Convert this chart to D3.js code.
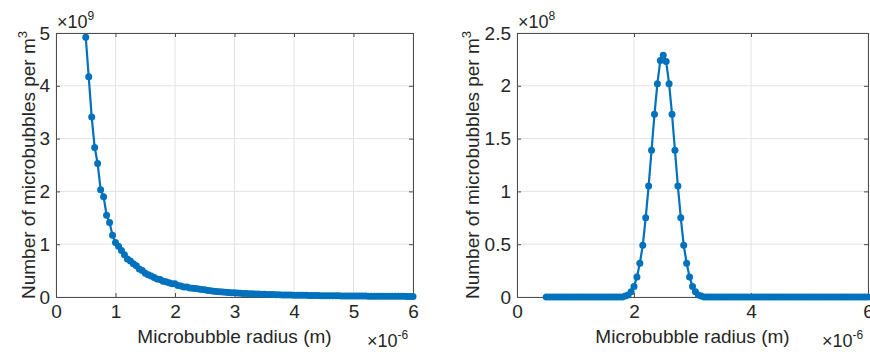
<!DOCTYPE html>
<html>
<head>
<meta charset="utf-8">
<script src="https://cdn.jsdelivr.net/npm/d3@7"></script>
<style>
  body { margin: 0; background: #fff; }
  svg text { font-family: "Liberation Sans", Arial, sans-serif; fill: #262626; }
</style>
</head>
<body>
<div id="chart"></div>
<script>
// radius grid (x 1e-6 m), shared by both panels
var radius = [0.50,0.55,0.60,0.65,0.70,0.75,0.80,0.85,0.90,0.95,
  1.00,1.05,1.10,1.15,1.20,1.25,1.30,1.35,1.40,1.45,
  1.50,1.55,1.60,1.65,1.70,1.75,1.80,1.85,1.90,1.95,
  2.00,2.05,2.10,2.15,2.20,2.25,2.30,2.35,2.40,2.45,
  2.50,2.55,2.60,2.65,2.70,2.75,2.80,2.85,2.90,2.95,
  3.00,3.05,3.10,3.15,3.20,3.25,3.30,3.35,3.40,3.45,
  3.50,3.55,3.60,3.65,3.70,3.75,3.80,3.85,3.90,3.95,
  4.00,4.05,4.10,4.15,4.20,4.25,4.30,4.35,4.40,4.45,
  4.50,4.55,4.60,4.65,4.70,4.75,4.80,4.85,4.90,4.95,
  5.00,5.05,5.10,5.15,5.20,5.25,5.30,5.35,5.40,5.45,
  5.50,5.55,5.60,5.65,5.70,5.75,5.80,5.85,5.90,5.95,6.00];

// left panel, number per m^3 (x 1e9)
var leftCounts = [4.92,4.17,3.41,2.83,2.53,2.03,1.90,1.55,1.41,1.17,
  1.03,0.96,0.88,0.80,0.72,0.68,0.63,0.59,0.53,0.50,
  0.45,0.42,0.40,0.37,0.34,0.33,0.30,0.29,0.27,0.25,
  0.25,0.22,0.21,0.19,0.19,0.17,0.165,0.16,0.15,0.14,
  0.135,0.125,0.12,0.11,0.105,0.10,0.095,0.09,0.087,0.082,
  0.080,0.074,0.071,0.068,0.065,0.062,0.060,0.057,0.055,0.053,
  0.050,0.048,0.047,0.045,0.043,0.042,0.040,0.039,0.037,0.036,
  0.035,0.034,0.033,0.032,0.031,0.030,0.029,0.028,0.027,0.026,
  0.025,0.025,0.024,0.023,0.022,0.022,0.021,0.020,0.020,0.019,
  0.019,0.018,0.018,0.017,0.017,0.016,0.016,0.015,0.015,0.015,
  0.014,0.014,0.013,0.013,0.013,0.012,0.012,0.012,0.011,0.011,0.011];

// right panel, number per m^3 (x 1e8)
var rightCounts = [0,0,0,0,0,0,0,0,0,0,
  0,0,0,0,0,0,0,0,0,0,
  0,0,0,0,0,0,0,0.01,0.02,0.05,
  0.10,0.19,0.32,0.49,0.75,1.05,1.39,1.73,2.02,2.24,
  2.29,2.23,2.02,1.73,1.39,1.05,0.75,0.49,0.32,0.19,
  0.10,0.05,0.02,0.01,0,0,0,0,0,0,
  0,0,0,0,0,0,0,0,0,0,
  0,0,0,0,0,0,0,0,0,0,
  0,0,0,0,0,0,0,0,0,0,
  0,0,0,0,0,0,0,0,0,0,
  0,0,0,0,0,0,0,0,0,0,0];

var leftXTicks = [0,1,2,3,4,5,6];
var leftYTicks = [0,1,2,3,4,5];
var rightXTicks = [0,2,4,6];
var rightYTicks = [0,0.5,1,1.5,2,2.5];
var xLabel = "Microbubble radius (m)";
var yLabel = "Number of microbubbles per m";

var width = 870, height = 354;
var blue = "#0072BD";
var fs = "19px";

var svg = d3.select("#chart").append("svg")
  .attr("width", width)
  .attr("height", height);

function drawPanel(p) {
  var x = d3.scaleLinear().domain([0, 6]).range([p.left, p.right]);
  var y = d3.scaleLinear().domain([0, p.ymax]).range([p.bottom, p.top]);
  var g = svg.append("g");

  // grid
  g.selectAll(".gx").data(p.xticks).enter().append("line")
    .attr("x1", function(d) { return x(d); }).attr("x2", function(d) { return x(d); })
    .attr("y1", p.top).attr("y2", p.bottom)
    .style("stroke", "#e3e3e3").style("stroke-width", 1);
  g.selectAll(".gy").data(p.yticks).enter().append("line")
    .attr("y1", function(d) { return y(d); }).attr("y2", function(d) { return y(d); })
    .attr("x1", p.left).attr("x2", p.right)
    .style("stroke", "#e3e3e3").style("stroke-width", 1);

  // axes, ticks inward
  var fmt = function(d) { return String(d); };
  g.append("g").attr("transform", "translate(0," + p.bottom + ")")
    .call(d3.axisBottom(x).tickValues(p.xticks).tickSizeInner(-4).tickSizeOuter(0).tickPadding(8).tickFormat(fmt));
  g.append("g").attr("transform", "translate(0," + p.top + ")")
    .call(d3.axisTop(x).tickValues(p.xticks).tickSizeInner(-4).tickSizeOuter(0).tickFormat(""));
  g.append("g").attr("transform", "translate(" + p.left + ",0)")
    .call(d3.axisLeft(y).tickValues(p.yticks).tickSizeInner(-4).tickSizeOuter(0).tickPadding(6).tickFormat(fmt));
  g.append("g").attr("transform", "translate(" + p.right + ",0)")
    .call(d3.axisRight(y).tickValues(p.yticks).tickSizeInner(-4).tickSizeOuter(0).tickFormat(""));
  g.selectAll(".domain").style("stroke", "#4d4d4d");
  g.selectAll(".tick line").style("stroke", "#4d4d4d");
  g.selectAll(".tick text").style("font-size", fs).style("fill", "#262626")
    .style("font-family", "'Liberation Sans', Arial, sans-serif");

  // series
  var line = d3.line()
    .x(function(d, i) { return x(radius[i]); })
    .y(function(d) { return y(d); });
  g.append("path").datum(p.values)
    .attr("d", line)
    .style("fill", "none").style("stroke", blue).style("stroke-width", 2.2);
  g.selectAll("circle").data(p.values).enter().append("circle")
    .attr("cx", function(d, i) { return x(radius[i]); })
    .attr("cy", function(d) { return y(d); })
    .attr("r", 3.5)
    .style("fill", blue);

  // labels
  g.append("text")
    .attr("x", (p.left + p.right) / 2).attr("y", 343)
    .attr("text-anchor", "middle").style("font-size", fs)
    .text(xLabel);
  var yl = g.append("text")
    .attr("transform", "translate(" + p.ylabelX + "," + (p.top + p.bottom) / 2 + ") rotate(-90)")
    .attr("text-anchor", "middle").style("font-size", fs);
  yl.append("tspan").text(yLabel);
  yl.append("tspan").attr("dy", -8).style("font-size", "13px").text("3");

  var ex = g.append("text").attr("x", p.right - 46).attr("y", 347).style("font-size", "18px");
  ex.append("tspan").text("\u00d710");
  ex.append("tspan").attr("dy", -8).style("font-size", "12px").text("-6");

  var ey = g.append("text").attr("x", p.left + 1).attr("y", 28).style("font-size", "18px");
  ey.append("tspan").text("\u00d710");
  ey.append("tspan").attr("dy", -8).style("font-size", "12px").text(p.exp);
}

drawPanel({ left: 56, right: 413, top: 33, bottom: 297, ymax: 5,
  xticks: leftXTicks, yticks: leftYTicks, values: leftCounts, exp: "9", ylabelX: 35 });
drawPanel({ left: 517, right: 868, top: 33, bottom: 297, ymax: 2.5,
  xticks: rightXTicks, yticks: rightYTicks, values: rightCounts, exp: "8", ylabelX: 479 });
</script>
</body>
</html>
